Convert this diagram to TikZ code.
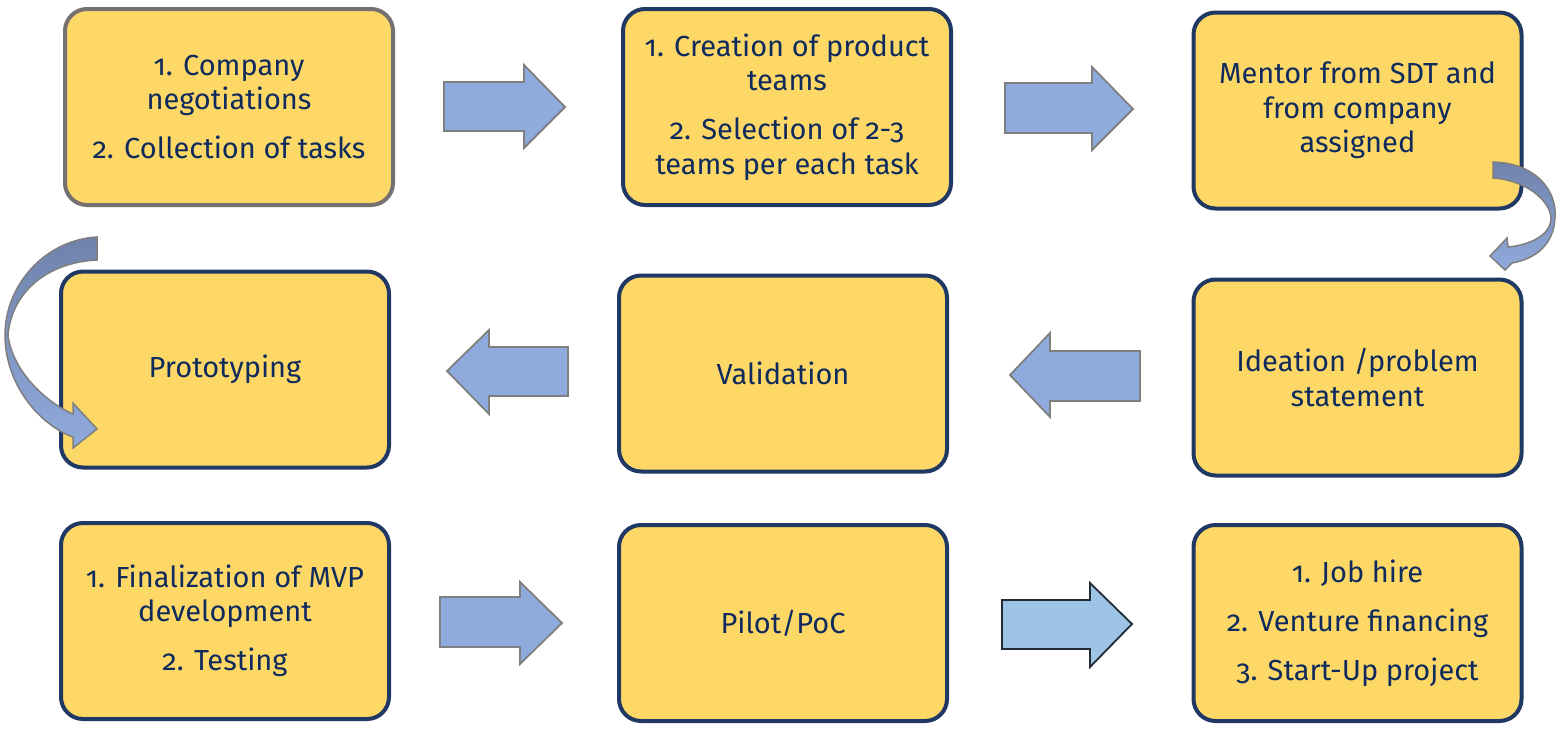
\documentclass[tikz,border=0pt]{standalone}
\usepackage{fontspec}
\setmainfont{Fira Sans}[Numbers=OldStyle]
\definecolor{boxfill}{HTML}{FDD866}
\definecolor{boxline}{HTML}{203864}
\definecolor{grayline}{HTML}{767171}
\definecolor{txt}{HTML}{0F2A5C}
\definecolor{arrfill}{HTML}{8FAADC}
\definecolor{arrline}{HTML}{7F7F7F}
\definecolor{arrfillb}{HTML}{9DC3E6}
\definecolor{arrlineb}{HTML}{222A35}
\definecolor{arrdark}{HTML}{6F82AC}
\begin{document}
\begin{tikzpicture}[x=1pt,y=-1pt,
  stepbox/.style={draw=boxline, fill=boxfill, line width=4pt, rounded corners=22pt,
    minimum width=328pt, minimum height=196pt, align=center, text=txt,
    font=\fontsize{29}{34.5}\selectfont, inner sep=0pt},
  blockarrow/.style={draw=arrline, fill=arrfill, line width=1.8pt, line join=miter},
  curvearrow/.style={draw=arrline, line width=1.5pt, top color=arrdark, bottom color=arrfill}]
\useasboundingbox (0,0) rectangle (1562,728);
\fill[white] (0,0) rectangle (1562,728);

% boxes
\node[stepbox, draw=grayline] (b1) at (229,107) {1. Company\\negotiations\\[14.5pt]2. Collection of tasks};
\node[stepbox] (b2) at (787,107) {1. Creation of product\\teams\\[14.5pt]2. Selection of 2-3\\teams per each task};
\node[stepbox] (b3) at (1357.5,110.5) {Mentor from SDT and\\from company\\assigned};
\node[stepbox] (b4) at (225,369.5) {Prototyping};
\node[stepbox] (b5) at (783,373.5) {Validation};
\node[stepbox] (b6) at (1357.5,377.5) {Ideation /problem\\statement};
\node[stepbox] (b7) at (225,621) {1. Finalization of MVP\\development\\[14.5pt]2. Testing};
\node[stepbox] (b8) at (783,623) {Pilot/PoC};
\node[stepbox] (b9) at (1357.5,623) {1. Job hire\\[14.5pt]2. Venture financing\\[14.5pt]3. Start-Up project};

% block arrows
\draw[blockarrow] (444,82) -- (524,82) -- (524,65) -- (565,107) -- (524,148) -- (524,131) -- (444,131) -- cycle;
\draw[blockarrow] (1005,83) -- (1092,83) -- (1092,67) -- (1133,109) -- (1092,150) -- (1092,133) -- (1005,133) -- cycle;
\draw[blockarrow] (1140,351) -- (1050,351) -- (1050,333) -- (1010,375) -- (1050,417) -- (1050,401) -- (1140,401) -- cycle;
\draw[blockarrow] (568,347) -- (489,347) -- (489,330) -- (447,371) -- (489,414) -- (489,396) -- (568,396) -- cycle;
\draw[blockarrow] (440,597) -- (520,597) -- (520,582) -- (562,623) -- (520,664) -- (520,647) -- (440,647) -- cycle;
\draw[blockarrow, fill=arrfillb, draw=arrlineb] (1002,600) -- (1090,600) -- (1090,583) -- (1132,624) -- (1090,667) -- (1090,649) -- (1002,649) -- cycle;

% curved arrows
\draw[curvearrow] (1493,162) .. controls (1535,163) and (1557,190) .. (1555,217)
  .. controls (1554,245) and (1535,259) .. (1512,263) -- (1505,270) -- (1490,256) -- (1507,238) -- (1508,247)
  .. controls (1530,245) and (1551,235) .. (1551,218)
  .. controls (1550,200) and (1525,180) .. (1493,178) -- cycle;
\draw[curvearrow] (97,237) .. controls (45,240) and (5,285) .. (5,335)
  .. controls (5,385) and (40,425) .. (73,437) -- (73,448) -- (97,429) -- (73,403) -- (73,414)
  .. controls (45,402) and (12,370) .. (8,335)
  .. controls (12,290) and (50,262) .. (97,260) -- cycle;
\end{tikzpicture}
\end{document}
